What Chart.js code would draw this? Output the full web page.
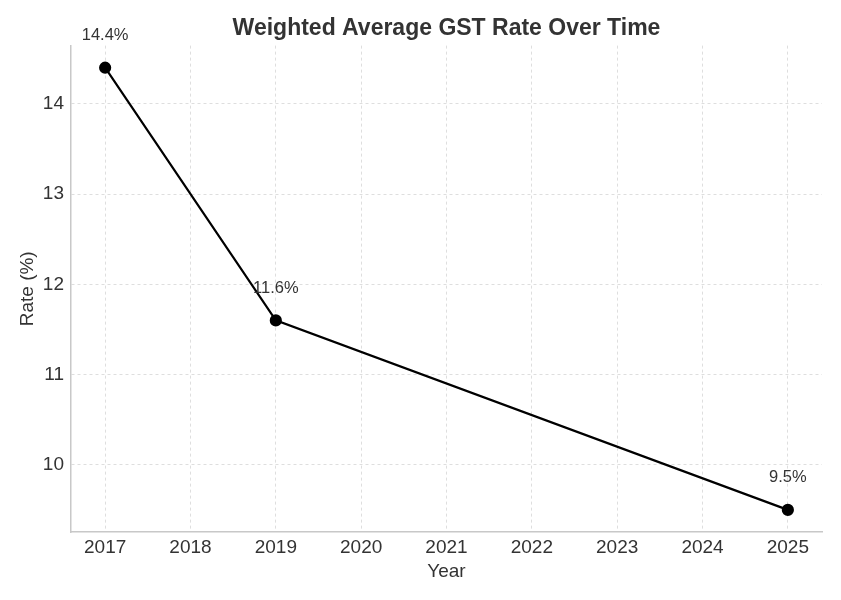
<!DOCTYPE html>
<html>
<head>
<meta charset="utf-8">
<script src="https://cdn.jsdelivr.net/npm/chart.js@4/dist/chart.umd.min.js"></script>
<style>
  html, body { margin: 0; padding: 0; background: #fff; }
  #wrap { width: 841px; height: 600px; }
</style>
</head>
<body>
<div id="wrap"><canvas id="gst-chart"></canvas></div>
<script>
const years = [2017, 2019, 2025];
const rates = [14.4, 11.6, 9.5];
const yearTicks = [2017, 2018, 2019, 2020, 2021, 2022, 2023, 2024, 2025];
const rateTicks = [10, 11, 12, 13, 14];

Chart.defaults.font.family = "'Liberation Sans', Arial, sans-serif";
Chart.defaults.color = '#333';

// writes "14.4%" etc above each point
const pointLabels = {
    id: 'pointLabels',
    afterDatasetsDraw(chart) {
        const ctx = chart.ctx;
        const meta = chart.getDatasetMeta(0);
        ctx.save();
        ctx.font = "16.5px 'Liberation Sans', Arial, sans-serif";
        ctx.fillStyle = '#333';
        ctx.textAlign = 'center';
        ctx.textBaseline = 'middle';
        meta.data.forEach((pt, i) => {
            ctx.fillText(rates[i].toFixed(1) + '%', pt.x, pt.y - 32);
        });
        ctx.restore();
    }
};

new Chart(document.getElementById("gst-chart"), {
    type: 'scatter',
    data: {
        datasets: [{
            label: "Weighted Average GST Rate",
            data: years.map((y, i) => ({x: y, y: rates[i]})),
            showLine: true,
            borderColor: '#000',
            borderWidth: 2.2,
            pointBackgroundColor: '#000',
            pointBorderColor: '#000',
            pointRadius: 5,
            pointHoverRadius: 5
        }]
    },
    options: {
        responsive: true,
        maintainAspectRatio: false,
        animation: false,
        layout: { padding: { left: 0, right: 19, top: 0, bottom: 0 } },
        plugins: {
            legend: { display: false },
            tooltip: { enabled: false },
            title: {
                display: true,
                fullSize: false,
                text: 'Weighted Average GST Rate Over Time',
                color: '#333',
                font: { size: 23, weight: 'bold' },
                padding: { top: 15, bottom: 3 }
            }
        },
        scales: {
            x: {
                type: 'linear',
                min: 2016.6,
                max: 2025.4,
                afterFit(scale) { scale.height = 68; },
                afterBuildTicks(scale) { scale.ticks = yearTicks.map(v => ({value: v})); },
                ticks: {
                    font: { size: 19 },
                    color: '#333',
                    padding: 4,
                    callback: v => String(v)
                },
                grid: { color: '#dedede', drawTicks: false },
                border: { color: '#c8c8c8', width: 1.5, dash: [3, 3] },
                title: {
                    display: true,
                    text: 'Year',
                    font: { size: 19 },
                    color: '#333',
                    padding: { top: 2, bottom: 17 }
                }
            },
            y: {
                min: 9.255,
                max: 14.645,
                afterFit(scale) { scale.width = 71; },
                afterBuildTicks(scale) { scale.ticks = rateTicks.map(v => ({value: v})); },
                ticks: {
                    font: { size: 19 },
                    color: '#333',
                    padding: 7
                },
                grid: { color: '#dedede', drawTicks: false },
                border: { color: '#c8c8c8', width: 1.5, dash: [3, 3] },
                title: {
                    display: true,
                    text: 'Rate (%)',
                    font: { size: 19 },
                    color: '#333',
                    padding: { top: 16, bottom: 4 }
                }
            }
        }
    },
    plugins: [pointLabels]
});
</script>
</body>
</html>
